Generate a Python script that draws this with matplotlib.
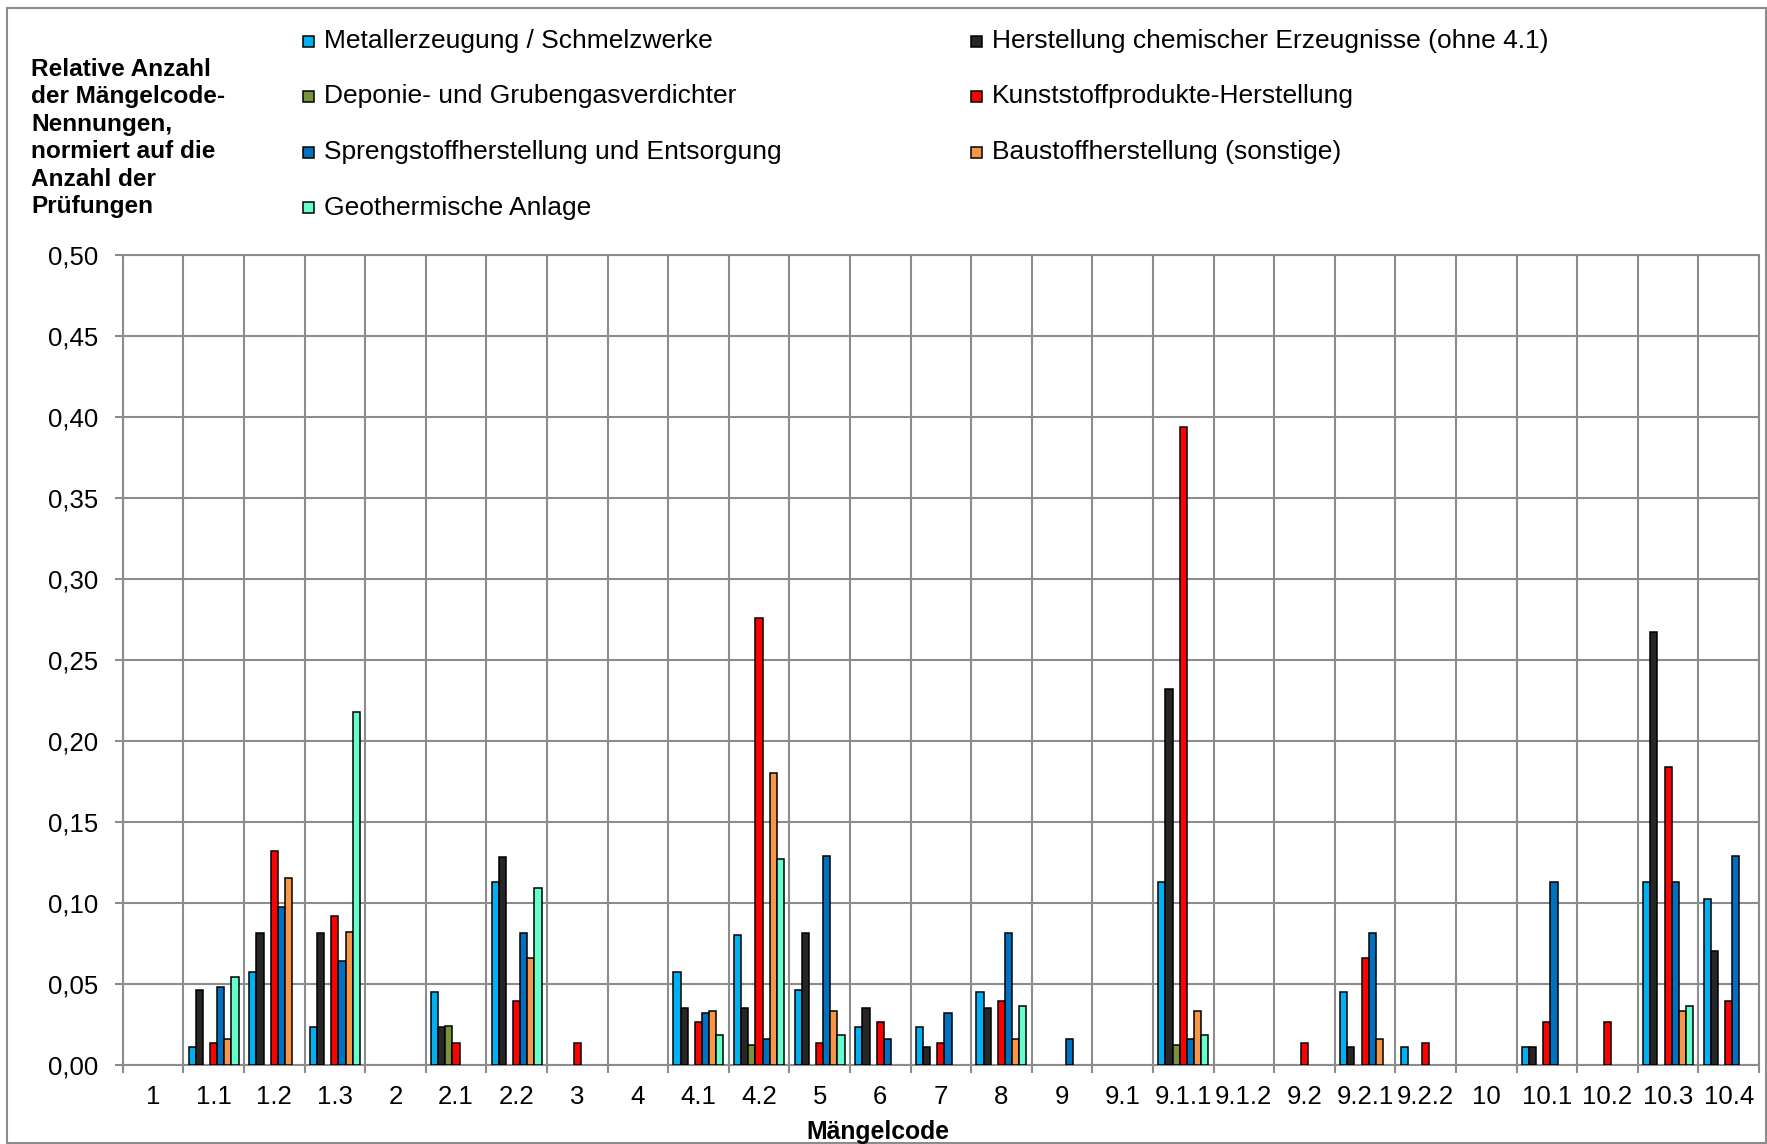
import matplotlib.pyplot as plt
import numpy as np
from matplotlib.patches import Rectangle
from matplotlib.ticker import FuncFormatter, MultipleLocator

plt.rcParams['font.family'] = ['Liberation Sans', 'DejaVu Sans']

# Mängelcodes on the x axis
codes = ["1", "1.1", "1.2", "1.3", "2", "2.1", "2.2", "3", "4", "4.1", "4.2",
         "5", "6", "7", "8", "9", "9.1", "9.1.1", "9.1.2", "9.2", "9.2.1",
         "9.2.2", "10", "10.1", "10.2", "10.3", "10.4"]

metall = [0, 0.011, 0.057, 0.023, 0, 0.045, 0.113, 0, 0, 0.057, 0.080, 0.046, 0.023, 0.023,
          0.045, 0, 0, 0.113, 0, 0, 0.045, 0.011, 0, 0.011, 0, 0.113, 0.102]
chemie = [0, 0.046, 0.081, 0.081, 0, 0.023, 0.128, 0, 0, 0.035, 0.035, 0.081, 0.035, 0.011,
          0.035, 0, 0, 0.232, 0, 0, 0.011, 0, 0, 0.011, 0, 0.267, 0.070]
deponie = [0, 0, 0, 0, 0, 0.024, 0, 0, 0, 0, 0.012, 0, 0, 0,
           0, 0, 0, 0.012, 0, 0, 0, 0, 0, 0, 0, 0, 0]
kunststoff = [0, 0.013, 0.132, 0.092, 0, 0.013, 0.039, 0.013, 0, 0.026, 0.276, 0.013, 0.026, 0.013,
              0.039, 0, 0, 0.394, 0, 0.013, 0.066, 0.013, 0, 0.026, 0.026, 0.184, 0.039]
spreng = [0, 0.048, 0.097, 0.064, 0, 0, 0.081, 0, 0, 0.032, 0.016, 0.129, 0.016, 0.032,
          0.081, 0.016, 0, 0.016, 0, 0, 0.081, 0, 0, 0.113, 0, 0.113, 0.129]
baustoff = [0, 0.016, 0.115, 0.082, 0, 0, 0.066, 0, 0, 0.033, 0.180, 0.033, 0, 0,
            0.016, 0, 0, 0.033, 0, 0, 0.016, 0, 0, 0, 0, 0.033, 0]
geo = [0, 0.054, 0, 0.218, 0, 0, 0.109, 0, 0, 0.018, 0.127, 0.018, 0, 0,
       0.036, 0, 0, 0.018, 0, 0, 0, 0, 0, 0, 0, 0.036, 0]

series = [
    ("Metallerzeugung / Schmelzwerke", metall, "#00B0F0"),
    ("Herstellung chemischer Erzeugnisse (ohne 4.1)", chemie, "#262626"),
    ("Deponie- und Grubengasverdichter", deponie, "#77933C"),
    ("Kunststoffprodukte-Herstellung", kunststoff, "#FF0000"),
    ("Sprengstoffherstellung und Entsorgung", spreng, "#0070C0"),
    ("Baustoffherstellung (sonstige)", baustoff, "#F79646"),
    ("Geothermische Anlage", geo, "#66FFCC"),
]

grid_col = "#8C8C8C"
W, H = 1767, 1144
fig = plt.figure(figsize=(W / 100, H / 100), dpi=100)
ax = fig.add_axes([122.7 / W, 1 - 1064.5 / H, (1759 - 122.7) / W, (1064.5 - 255) / H])

x = np.arange(len(codes))
bw = 0.824 / len(series)
for j, (name, vals, col) in enumerate(series):
    vals = np.array(vals)
    idx = vals > 0
    ax.bar(x[idx] + (j - 3) * bw, vals[idx], width=bw, color=col,
           edgecolor="black", linewidth=1.1, zorder=3)

ax.set_xlim(-0.5, len(codes) - 0.5)
ax.set_ylim(0, 0.5)
ax.yaxis.set_major_locator(MultipleLocator(0.05))
ax.yaxis.set_major_formatter(FuncFormatter(lambda v, p: f"{v:.2f}".replace(".", ",")))
ax.set_xticks(x)
ax.set_xticklabels(codes)
ax.set_xticks(np.arange(len(codes) + 1) - 0.5, minor=True)
ax.tick_params(axis="x", which="major", length=0, pad=15, labelsize=18.5)
ax.tick_params(axis="x", which="minor", length=6, width=1.5, color=grid_col)
ax.tick_params(axis="y", which="major", length=6, width=1.5, color=grid_col,
               pad=11.5, labelsize=18.5)
ax.grid(axis="y", which="major", color=grid_col, linewidth=1.5)
ax.grid(axis="x", which="minor", color=grid_col, linewidth=1.5)
ax.set_axisbelow(True)
for s in ax.spines.values():
    s.set_color(grid_col)
    s.set_linewidth(1.5)

# axis titles
fig.text(878 / W, 1 - 1131.5 / H, "Mängelcode", ha="center", va="center",
         fontsize=17.8, fontweight="bold")
fig.text(31 / W, 1 - 57.5 / H,
         "Relative Anzahl\nder Mängelcode-\nNennungen,\nnormiert auf die\nAnzahl der\nPrüfungen",
         ha="left", va="top", fontsize=17.6, fontweight="bold", linespacing=1.25)

# legend, two columns, filled row by row
for j, (name, vals, col) in enumerate(series):
    r, c = divmod(j, 2)
    xm = 303 if c == 0 else 971
    yc = 41 + r * 55.5
    fig.add_artist(Rectangle((xm / W, 1 - (yc + 5.5) / H), 11 / W, 11 / H,
                             transform=fig.transFigure, facecolor=col,
                             edgecolor="black", linewidth=1.1))
    fig.text((xm + 21) / W, 1 - yc / H, name, ha="left", va="center", fontsize=19)

# chart frame
fig.add_artist(Rectangle((7 / W, 1 / H), 1758.5 / W, 1135 / H, transform=fig.transFigure,
                         fill=False, edgecolor=grid_col, linewidth=1.5))

fig.savefig("out.png", dpi=100)
